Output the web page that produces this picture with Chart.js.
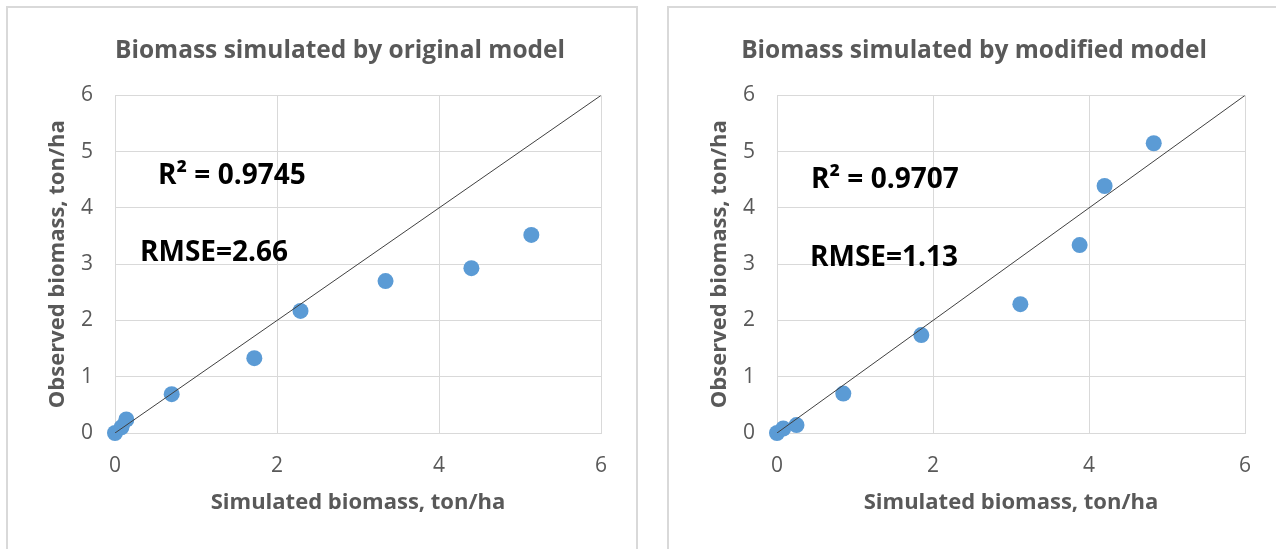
<!DOCTYPE html>
<html>
<head>
<meta charset="utf-8">
<script src="https://cdn.jsdelivr.net/npm/chart.js@4.4.1/dist/chart.umd.min.js"></script>
<style>
  html, body { margin: 0; padding: 0; background: #fff; overflow: hidden; }
  body { width: 1276px; height: 549px; position: relative; }
  .panel { position: absolute; top: 6px; height: 560px; border: 2px solid #d9d9d9; box-sizing: border-box; }
  .wrap { position: absolute; top: 8px; height: 541px; }
</style>
</head>
<body>
<div class="panel" style="left:6px; width:632px;"></div>
<div class="panel" style="left:667px; width:640px;"></div>
<div class="wrap" style="left:8px; width:628px;"><canvas id="origChart"></canvas></div>
<div class="wrap" style="left:669px; width:607px;"><canvas id="modChart"></canvas></div>
<script>
// data (ton/ha)
const origSimulated = [0, 0.08, 0.14, 0.70, 1.72, 2.29, 3.34, 4.40, 5.14];
const origObserved  = [0, 0.10, 0.24, 0.69, 1.33, 2.17, 2.70, 2.93, 3.52];

const modSimulated = [0, 0.08, 0.25, 0.85, 1.85, 3.12, 3.88, 4.20, 4.83];
const modObserved  = [0, 0.08, 0.14, 0.70, 1.74, 2.29, 3.34, 4.39, 5.15];

const oneToOne = [0, 6];
const axisTicks = [0, 1, 2, 3, 4, 5, 6];

const origStats = ['R\u00b2 = 0.9745', 'RMSE=2.66'];
const modStats  = ['R\u00b2 = 0.9707', 'RMSE=1.13'];

const grey = '#595959';
const gridGrey = '#d9d9d9';
const dotBlue = '#5b9bd5';
const font = 'Open Sans';

// stats text drawn on top of the plot area
const statsPlugin = {
  id: 'statsText',
  afterDatasetsDraw(chart, args, opts) {
    const { ctx, chartArea } = chart;
    ctx.save();
    ctx.fillStyle = '#000';
    ctx.font = 'bold 28px "' + font + '"';
    ctx.textBaseline = 'alphabetic';
    opts.lines.forEach(l => {
      ctx.fillText(l.text, chartArea.left + l.dx, chartArea.top + l.dy);
    });
    ctx.restore();
  }
};

function makeChart(id, title, xs, ys, stats, pos, pad, yWidth, yTitlePad) {
  const points = xs.map((x, i) => ({ x: x, y: ys[i] }));
  const line = oneToOne.map(v => ({ x: v, y: v }));

  return new Chart(document.getElementById(id), {
    type: 'scatter',
    data: {
      datasets: [{
        data: line,
        type: 'line',
        borderColor: '#404040',
        borderWidth: 1,
        pointRadius: 0,
        order: 1
      }, {
        data: points,
        backgroundColor: dotBlue,
        borderWidth: 0,
        pointRadius: 8,
        pointHoverRadius: 8,
        clip: false,
        order: 2
      }]
    },
    options: {
      responsive: true,
      maintainAspectRatio: false,
      animation: false,
      layout: { padding: pad },
      plugins: {
        legend: { display: false },
        tooltip: { enabled: false },
        title: {
          display: true,
          text: title,
          color: grey,
          font: { family: font, size: 24.5, weight: 'bold' },
          padding: { top: 28, bottom: 30 }
        },
        statsText: {
          lines: [
            { text: stats[0], dx: pos[0], dy: pos[1] },
            { text: stats[1], dx: pos[2], dy: pos[3] }
          ]
        }
      },
      scales: {
        x: {
          type: 'linear',
          min: 0,
          max: 6,
          afterBuildTicks: s => { s.ticks = axisTicks.filter(v => v % 2 === 0).map(v => ({ value: v })); },
          afterFit: s => { s.height = 116; },
          grid: { color: gridGrey, drawTicks: false },
          border: { color: gridGrey },
          ticks: { color: grey, padding: 20, font: { family: font, size: 21 } },
          title: {
            display: true,
            text: 'Simulated biomass, ton/ha',
            color: grey,
            font: { family: font, size: 22, weight: 'bold' },
            padding: { top: 33, bottom: 33 }
          }
        },
        y: {
          type: 'linear',
          min: 0,
          max: 6,
          afterBuildTicks: s => { s.ticks = axisTicks.map(v => ({ value: v })); },
          afterFit: s => { s.width = yWidth; },
          grid: { color: gridGrey, drawTicks: false },
          border: { color: gridGrey },
          ticks: { color: grey, padding: 22, font: { family: font, size: 21 } },
          title: {
            display: true,
            text: 'Observed biomass, ton/ha',
            color: grey,
            font: { family: font, size: 22, weight: 'bold' },
            padding: { top: yTitlePad, bottom: 0 }
          }
        }
      }
    },
    plugins: [statsPlugin]
  });
}

makeChart('origChart', 'Biomass simulated by original model',
  origSimulated, origObserved, origStats, [43, 89, 25, 166],
  { left: 71, right: 35, top: 0, bottom: 0 }, 36, -34);

makeChart('modChart', 'Biomass simulated by modified model',
  modSimulated, modObserved, modStats, [34, 93, 33, 171],
  { left: 34, right: 31, top: 0, bottom: 0 }, 74, 4);
</script>
</body>
</html>
